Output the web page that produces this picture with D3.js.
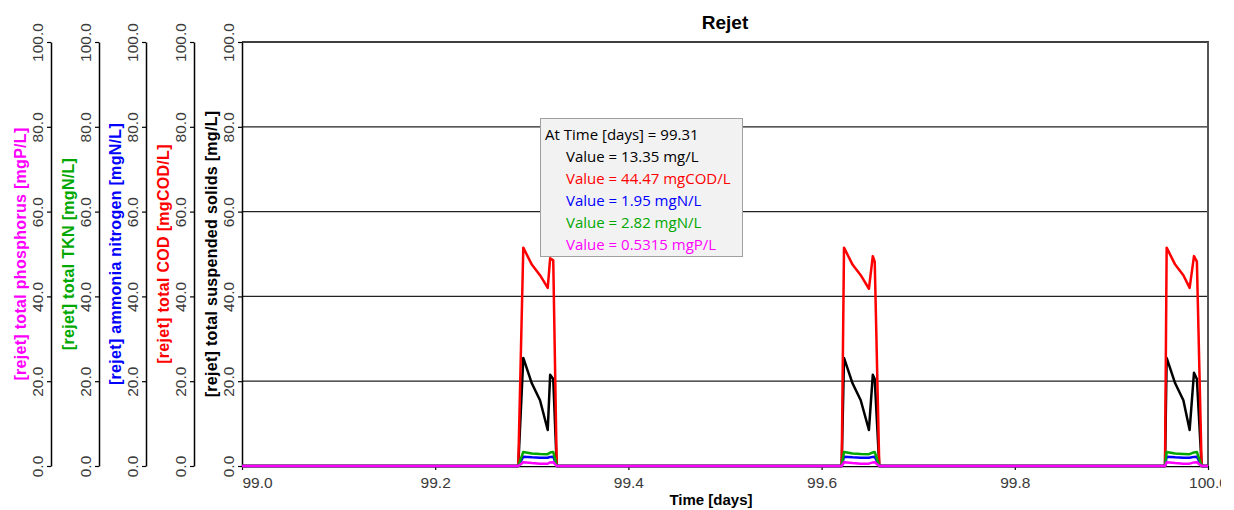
<!DOCTYPE html>
<html>
<head>
<meta charset="utf-8">
<script src="https://cdn.jsdelivr.net/npm/d3@7"></script>
<style>
  body { margin: 0; background: #fff; }
  svg { display: block; }
  .tick text { font-family: "Liberation Sans", Arial, sans-serif; font-size: 15.5px; fill: #3a3a3a; }
  .atitle { font-family: "Liberation Sans", Arial, sans-serif; font-size: 16px; font-weight: bold; }
  .tip text { font-family: "Open Sans", "Noto Sans", sans-serif; font-size: 15px; }
</style>
</head>
<body>
<div id="chart"></div>
<script>
// time samples [days]
var time = [99.000,
  99.2860, 99.2912, 99.3000, 99.3085, 99.3165, 99.3190, 99.3222, 99.3258,
  99.6208, 99.6232, 99.6320, 99.6405, 99.6490, 99.6530, 99.6550, 99.6597,
  99.9555, 99.9572, 99.9660, 99.9745, 99.9810, 99.9855, 99.9885, 99.9934,
  100.000];

var tss = [0,
  0, 25.5, 19.5, 15.5, 8.5, 21.5, 20.5, 0,
  0, 25.5, 19.5, 15.5, 8.5, 21.5, 20.5, 0,
  0, 25.5, 19.5, 15.5, 8.5, 22.0, 20.5, 0,
  0];
var cod = [0,
  0, 51.5, 47.5, 45.0, 42.0, 49.0, 48.5, 0,
  0, 51.5, 47.5, 45.0, 41.8, 49.5, 48.2, 0,
  0, 51.5, 47.5, 45.0, 42.0, 49.5, 48.2, 0,
  0];
var nh = [0,
  0, 2.2, 2.05, 1.95, 1.95, 2.15, 2.2, 0,
  0, 2.2, 2.05, 1.95, 1.95, 2.15, 2.2, 0,
  0, 2.2, 2.05, 1.95, 1.95, 2.15, 2.2, 0,
  0];
var tkn = [0,
  0, 3.3, 2.95, 2.85, 2.8, 3.2, 3.3, 0,
  0, 3.3, 2.95, 2.85, 2.8, 3.2, 3.3, 0,
  0, 3.3, 2.95, 2.85, 2.8, 3.2, 3.3, 0,
  0];
var tp = [0,
  0, 0.9, 0.7, 0.55, 0.55, 0.85, 0.9, 0,
  0, 0.9, 0.7, 0.55, 0.55, 0.85, 0.9, 0,
  0, 0.9, 0.7, 0.55, 0.55, 0.85, 0.9, 0,
  0];

var yTicks = [0, 20, 40, 60, 80, 100];
var xTicks = [99.0, 99.2, 99.4, 99.6, 99.8, 100.0];

// left to right, the stacked y axes
var axisNames = ["[rejet] total phosphorus [mgP/L]", "[rejet] total TKN [mgN/L]",
  "[rejet] ammonia nitrogen [mgN/L]", "[rejet] total COD [mgCOD/L]",
  "[rejet] total suspended solids [mg/L]"];
var axisColors = ["#ff00ff", "#00a800", "#0000ff", "#ff0000", "#000000"];
var axisX = [51, 99, 146, 194, 242];

var tipLines = ["Value = 13.35 mg/L", "Value = 44.47 mgCOD/L", "Value = 1.95 mgN/L",
  "Value = 2.82 mgN/L", "Value = 0.5315 mgP/L"];
var tipColors = ["#000000", "#ff0000", "#0000ff", "#00a800", "#ff00ff"];

var svgWidth = 1234, svgHeight = 510;
var plotLeft = 242, plotRight = 1208, plotTop = 42, plotBottom = 466;

var svg = d3.select("#chart").append("svg")
  .attr("width", svgWidth)
  .attr("height", svgHeight);

var x = d3.scaleLinear().domain([99, 100]).range([plotLeft, plotRight]);
var y = d3.scaleLinear().domain([0, 100]).range([plotBottom, plotTop]);

// grid
svg.append("g").selectAll("line")
  .data([20, 40, 60, 80])
  .enter().append("line")
  .attr("x1", plotLeft).attr("x2", plotRight)
  .attr("y1", d => y(d)).attr("y2", d => y(d))
  .attr("stroke", "#222").attr("stroke-width", 1.2);

svg.append("line")
  .attr("x1", plotLeft).attr("x2", plotRight + 1)
  .attr("y1", plotTop).attr("y2", plotTop)
  .attr("stroke", "#000").attr("stroke-width", 1.5);
svg.append("line")
  .attr("x1", plotRight).attr("x2", plotRight)
  .attr("y1", plotTop).attr("y2", plotBottom)
  .attr("stroke", "#555").attr("stroke-width", 2);

// y axes
axisX.forEach(function(ax, i) {
  var g = svg.append("g")
    .attr("transform", `translate(${ax},0)`)
    .call(d3.axisLeft(y).tickValues(yTicks).tickFormat(d3.format(".1f")).tickSize(4).tickSizeOuter(0));
  g.select(".domain").attr("stroke", "#000").attr("stroke-width", 1.5);
  g.selectAll(".tick line").attr("stroke", "#000").attr("stroke-width", 1.2);
  g.selectAll(".tick text")
    .attr("x", null).attr("dy", null)
    .attr("text-anchor", "middle")
    .attr("transform", "translate(-8,0) rotate(-90)");

  svg.append("text")
    .attr("class", "atitle")
    .attr("transform", `translate(${ax - 25},${(plotTop + plotBottom) / 2}) rotate(-90)`)
    .attr("text-anchor", "middle")
    .attr("fill", axisColors[i])
    .style("letter-spacing", "0.3px")
    .text(axisNames[i]);
});

// x axis
svg.append("clipPath").attr("id", "xclip")
  .append("rect").attr("x", 0).attr("y", 0).attr("width", 1221).attr("height", svgHeight);

var xg = svg.append("g")
  .attr("transform", `translate(0,${plotBottom})`)
  .attr("clip-path", "url(#xclip)")
  .call(d3.axisBottom(x).tickValues(xTicks).tickFormat(d3.format(".1f")).tickSize(4).tickSizeOuter(0));
xg.select(".domain").attr("stroke", "#000").attr("stroke-width", 1.5);
xg.selectAll(".tick line").attr("stroke", "#000").attr("stroke-width", 1.2);
xg.selectAll(".tick text").attr("dy", "0.95em");
xg.selectAll(".tick text").filter(d => d === 99.0).attr("text-anchor", "start");

svg.append("text")
  .attr("class", "atitle")
  .attr("x", 711).attr("y", 505)
  .attr("text-anchor", "middle")
  .style("font-size", "15px")
  .text("Time [days]");

svg.append("text")
  .attr("class", "atitle")
  .attr("x", 725).attr("y", 29)
  .attr("text-anchor", "middle")
  .style("font-size", "19px")
  .text("Rejet");

// series
var series = [tss, cod, nh, tkn, tp];
var seriesColors = ["#000000", "#ff0000", "#0000ff", "#00a800", "#ff00ff"];
var line = d3.line()
  .x((d, i) => x(time[i]))
  .y(d => y(d));

series.forEach(function(s, i) {
  svg.append("path")
    .datum(s)
    .attr("d", line)
    .attr("fill", "none")
    .attr("stroke", seriesColors[i])
    .attr("stroke-width", 2.5)
    .attr("stroke-linejoin", "round");
});

// tooltip
var tip = svg.append("g").attr("class", "tip");
tip.append("rect")
  .attr("x", 540.5).attr("y", 118.5)
  .attr("width", 202).attr("height", 138)
  .attr("fill", "#f2f2f2")
  .attr("stroke", "#a0a0a0");
tip.append("text")
  .attr("x", 545).attr("y", 140)
  .attr("fill", "#000")
  .text("At Time [days] = 99.31");
tip.selectAll(".val")
  .data(tipLines)
  .enter().append("text")
  .attr("class", "val")
  .attr("x", 566)
  .attr("y", (d, i) => 162 + i * 22)
  .attr("fill", (d, i) => tipColors[i])
  .text(d => d);
</script>
</body>
</html>
